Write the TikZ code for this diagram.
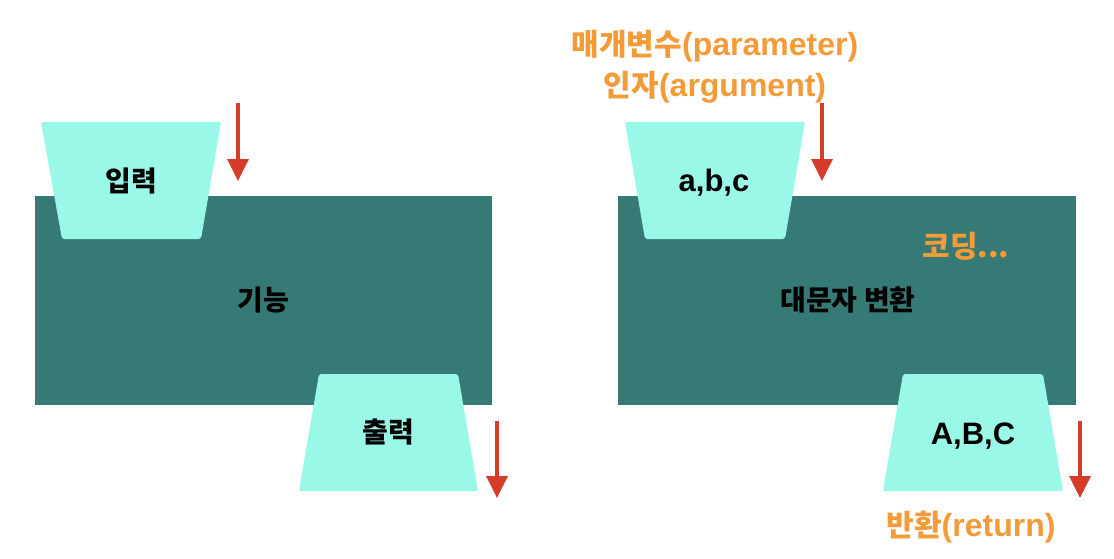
\documentclass[tikz,border=0pt]{standalone}
\usepackage{fontspec}
\setmainfont{Liberation Sans}
\newfontfamily\kr{Noto Sans CJK KR}
\definecolor{tealbox}{HTML}{357A75}
\definecolor{mintbox}{HTML}{9AF8E9}
\definecolor{redarrow}{HTML}{D63C2A}
\definecolor{orangetxt}{HTML}{F29B38}
\usetikzlibrary{arrows.meta}
\newcommand{\krbig}[1]{{\kr\bfseries\fontsize{30}{32}\selectfont #1}}
\newcommand{\krmid}[1]{{\kr\bfseries\fontsize{28}{30}\selectfont #1}}
\tikzset{
  funcbox/.style={fill=tealbox, draw=none, inner sep=0pt},
  mint/.style={fill=mintbox, draw=none, rounded corners=2pt},
  blacktxt/.style={text=black, font=\fontsize{31}{33}\selectfont\bfseries, inner sep=0pt},
  orangelbl/.style={text=orangetxt, font=\fontsize{32}{34}\selectfont\bfseries, inner sep=0pt},
  flow/.style={draw=redarrow, line width=3.6pt, -{Triangle[length=22pt,width=21pt]}}
}
\begin{document}
\begin{tikzpicture}[x=1pt,y=-1pt]
\useasboundingbox (0,0) rectangle (1114,558);
% ---------- left panel ----------
\node[funcbox, minimum width=457pt, minimum height=209pt] (func1) at (263.5,300.5) {};
\path[mint] (41,122) -- (221,122) -- (201,239) -- (62,239) -- cycle;
\path[mint] (319,374) -- (458,374) -- (478,491) -- (299,491) -- cycle;
\node[blacktxt] (in1) at (131,181) {\krmid{입력}};
\node[blacktxt] (fn1) at (263,300) {\krmid{기능}};
\node[blacktxt] (out1) at (388,432) {\krmid{출력}};
\coordinate (a1s) at (238,103);
\coordinate (a1e) at (238,181);
\coordinate (a2s) at (497,421);
\coordinate (a2e) at (497,498);
\draw[flow] (a1s) -- (a1e);
\draw[flow] (a2s) -- (a2e);
% ---------- right panel ----------
\node[funcbox, minimum width=458pt, minimum height=209pt] (func2) at (847,300.5) {};
\path[mint] (625,122) -- (805,122) -- (785,239) -- (645,239) -- cycle;
\path[mint] (903,374) -- (1043,374) -- (1063,491) -- (883,491) -- cycle;
\node[blacktxt] (in2) at (714,183) {a,b,c};
\node[blacktxt] (fn2) at (848,300) {\krmid{대문자 변환}};
\node[blacktxt] (out2) at (973,436) {A,B,C};
\node[orangelbl] (code) at (966,246) {\krbig{코딩...}};
\node[orangelbl] (param) at (715,46) {\krbig{매개변수}(parameter)};
\node[orangelbl] (arg) at (715,87) {\krbig{인자}(argument)};
\node[orangelbl] (ret) at (971,527) {\krbig{반환}(return)};
\coordinate (b1s) at (822,103);
\coordinate (b1e) at (822,181);
\coordinate (b2s) at (1080,421);
\coordinate (b2e) at (1080,498);
\draw[flow] (b1s) -- (b1e);
\draw[flow] (b2s) -- (b2e);
\end{tikzpicture}
\end{document}
